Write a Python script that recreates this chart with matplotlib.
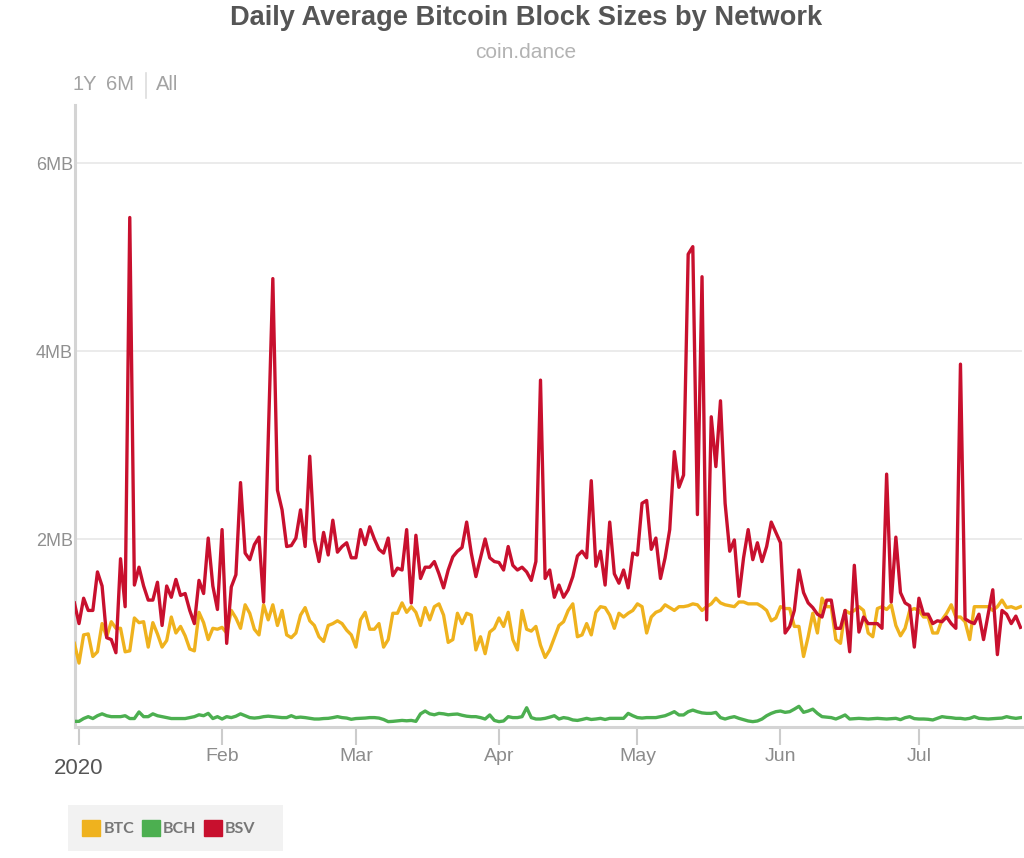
import matplotlib
matplotlib.use("Agg")
import matplotlib.pyplot as plt
import matplotlib.transforms as mtransforms
from matplotlib.patches import Patch, Rectangle
from matplotlib.lines import Line2D
import pandas as pd

# ---------------- data (MB per block, daily average) ----------------
start_date = "2019-12-31"
end_date = "2020-07-23"

bsv = [
    1.32, 1.10, 1.37, 1.24, 1.24, 1.65, 1.50, 0.95, 0.93, 0.79,
    1.79, 1.28, 5.42, 1.51, 1.70, 1.50, 1.35, 1.35, 1.54, 1.08,
    1.50, 1.38, 1.57, 1.40, 1.42, 1.24, 1.10, 1.56, 1.42, 2.01,
    1.50, 1.25, 2.10, 0.89, 1.49, 1.62, 2.60, 1.85, 1.78, 1.94,
    2.02, 1.33, 3.05, 4.77, 2.52, 2.31, 1.92, 1.93, 2.01, 2.31,
    1.92, 2.88, 1.99, 1.76, 2.07, 1.83, 2.20, 1.86, 1.92, 1.96,
    1.80, 1.80, 2.10, 1.94, 2.13, 2.00, 1.89, 1.85, 2.01, 1.61,
    1.69, 1.67, 2.10, 1.32, 2.04, 1.58, 1.70, 1.70, 1.76, 1.63,
    1.48, 1.67, 1.81, 1.87, 1.91, 2.18, 1.85, 1.60, 1.80, 2.00,
    1.80, 1.76, 1.75, 1.67, 1.92, 1.72, 1.67, 1.70, 1.65, 1.56,
    1.76, 3.69, 1.58, 1.67, 1.38, 1.51, 1.38, 1.46, 1.60, 1.82,
    1.87, 1.80, 2.62, 1.71, 1.87, 1.51, 2.18, 1.63, 1.53, 1.67,
    1.48, 1.85, 1.83, 2.38, 2.41, 1.89, 2.01, 1.58, 1.80, 2.10,
    2.93, 2.55, 2.68, 5.03, 5.11, 2.26, 4.79, 1.14, 3.30, 2.77,
    3.47, 2.38, 1.87, 1.99, 1.39, 1.80, 2.10, 1.78, 1.96, 1.76,
    1.92, 2.18, 2.07, 1.96, 1.00, 1.07, 1.24, 1.67, 1.43, 1.32,
    1.27, 1.20, 1.17, 1.35, 1.35, 1.05, 1.05, 1.24, 0.80, 1.72,
    1.01, 1.17, 1.10, 1.10, 1.10, 1.05, 2.69, 1.33, 2.02, 1.43,
    1.32, 1.29, 0.85, 1.37, 1.20, 1.20, 1.10, 1.13, 1.12, 1.17,
    1.10, 1.05, 3.86, 1.15, 1.12, 1.10, 1.20, 0.93, 1.20, 1.46,
    0.77, 1.24, 1.20, 1.10, 1.18, 1.06,
]

btc = [
    0.89, 0.68, 0.98, 0.99, 0.75, 0.80, 1.10, 0.96, 1.12, 1.05,
    1.05, 0.80, 0.81, 1.16, 1.11, 1.12, 0.85, 1.11, 0.99, 0.85,
    0.92, 1.17, 1.00, 1.07, 0.97, 0.83, 0.81, 1.22, 1.11, 0.93,
    1.05, 1.04, 1.06, 1.00, 1.24, 1.16, 1.05, 1.30, 1.21, 1.04,
    0.98, 1.30, 1.14, 1.30, 1.08, 1.24, 0.98, 0.95, 1.00, 1.19,
    1.27, 1.13, 1.08, 0.96, 0.91, 1.08, 1.10, 1.13, 1.10, 1.03,
    0.98, 0.85, 1.14, 1.22, 1.04, 1.04, 1.10, 0.85, 0.93, 1.21,
    1.21, 1.32, 1.22, 1.28, 1.22, 1.08, 1.27, 1.14, 1.28, 1.31,
    1.19, 0.90, 0.93, 1.21, 1.10, 1.21, 1.19, 0.82, 0.96, 0.78,
    1.01, 1.05, 1.16, 1.07, 1.22, 0.93, 0.82, 1.24, 1.04, 1.02,
    1.07, 0.87, 0.74, 0.82, 0.95, 1.08, 1.12, 1.24, 1.31, 0.96,
    0.98, 1.10, 0.98, 1.22, 1.28, 1.27, 1.19, 1.05, 1.21, 1.17,
    1.21, 1.24, 1.31, 1.28, 1.00, 1.17, 1.22, 1.24, 1.30, 1.27,
    1.24, 1.28, 1.28, 1.29, 1.31, 1.30, 1.24, 1.28, 1.31, 1.37,
    1.32, 1.30, 1.29, 1.28, 1.33, 1.33, 1.31, 1.31, 1.31, 1.28,
    1.24, 1.13, 1.16, 1.28, 1.26, 1.26, 1.07, 1.07, 0.75, 0.96,
    1.21, 1.00, 1.37, 1.28, 1.28, 0.93, 0.89, 1.24, 1.21, 1.24,
    1.28, 1.24, 1.00, 0.96, 1.26, 1.28, 1.25, 1.30, 1.08, 0.97,
    1.05, 1.24, 1.26, 1.24, 1.17, 1.17, 1.00, 1.00, 1.14, 1.21,
    1.30, 1.17, 1.17, 1.12, 0.93, 1.28, 1.28, 1.28, 1.28, 1.24,
    1.28, 1.35, 1.27, 1.28, 1.26, 1.28,
]

bch = [
    0.06, 0.06, 0.09, 0.11, 0.09, 0.12, 0.14, 0.12, 0.11, 0.11,
    0.11, 0.12, 0.09, 0.09, 0.16, 0.11, 0.11, 0.14, 0.12, 0.11,
    0.10, 0.09, 0.09, 0.09, 0.09, 0.10, 0.11, 0.13, 0.12, 0.145,
    0.09, 0.11, 0.085, 0.11, 0.10, 0.115, 0.14, 0.12, 0.10, 0.095,
    0.10, 0.11, 0.115, 0.11, 0.105, 0.10, 0.10, 0.12, 0.10, 0.105,
    0.10, 0.092, 0.085, 0.085, 0.09, 0.092, 0.10, 0.11, 0.10, 0.095,
    0.082, 0.09, 0.092, 0.095, 0.10, 0.10, 0.095, 0.08, 0.057, 0.06,
    0.065, 0.07, 0.066, 0.07, 0.06, 0.14, 0.17, 0.14, 0.13, 0.145,
    0.14, 0.13, 0.135, 0.138, 0.125, 0.115, 0.11, 0.11, 0.10, 0.085,
    0.128, 0.07, 0.057, 0.064, 0.11, 0.10, 0.10, 0.11, 0.205, 0.10,
    0.085, 0.085, 0.092, 0.105, 0.12, 0.085, 0.10, 0.092, 0.075, 0.07,
    0.08, 0.092, 0.08, 0.085, 0.092, 0.08, 0.092, 0.092, 0.092, 0.092,
    0.145, 0.12, 0.10, 0.095, 0.10, 0.10, 0.10, 0.11, 0.12, 0.14,
    0.163, 0.128, 0.128, 0.163, 0.18, 0.163, 0.15, 0.145, 0.145, 0.155,
    0.10, 0.085, 0.10, 0.11, 0.092, 0.078, 0.064, 0.057, 0.064, 0.085,
    0.12, 0.145, 0.163, 0.17, 0.156, 0.163, 0.19, 0.22, 0.156, 0.17,
    0.19, 0.145, 0.11, 0.105, 0.10, 0.085, 0.105, 0.128, 0.085, 0.088,
    0.092, 0.089, 0.085, 0.089, 0.092, 0.089, 0.085, 0.089, 0.092, 0.078,
    0.099, 0.11, 0.089, 0.085, 0.085, 0.082, 0.075, 0.092, 0.11, 0.103,
    0.099, 0.092, 0.092, 0.085, 0.092, 0.11, 0.092, 0.089, 0.085, 0.089,
    0.092, 0.095, 0.11, 0.099, 0.092, 0.099,
]

series_names = ["BTC", "BCH", "BSV"]
series_colors = ["#EFB21E", "#4CAF50", "#C8102E"]
month_labels = ["", "Feb", "Mar", "Apr", "May", "Jun", "Jul"]
month_ticks = pd.to_datetime(["2020-01-01", "2020-02-01", "2020-03-01", "2020-04-01",
                              "2020-05-01", "2020-06-01", "2020-07-01"])
y_ticks = [2, 4, 6]
y_labels = ["2MB", "4MB", "6MB"]

dates = pd.date_range(start_date, end_date, freq="D")
assert len(dates) == len(bsv) == len(btc) == len(bch)

# ---------------- figure ----------------
FONT = ["Liberation Sans", "DejaVu Sans"]
plt.rcParams["font.family"] = FONT

W, H = 1024, 858
fig = plt.figure(figsize=(W / 100, H / 100), dpi=100)
fig.patch.set_facecolor("white")

left_px, right_px, top_px, bottom_px = 75, 1022, 105, 727
ax = fig.add_axes([left_px / W, 1 - bottom_px / H,
                   (right_px - left_px) / W, (bottom_px - top_px) / H])

for vals, c, z in zip([btc, bch, bsv], series_colors, [3, 3, 4]):
    ax.plot(dates, vals, color=c, lw=2.4, zorder=z, solid_joinstyle="round")

px_per_day = 4.615
x0 = pd.Timestamp("2020-01-01")
ax.set_xlim(x0 - pd.Timedelta(days=(79 - left_px) / px_per_day),
            x0 + pd.Timedelta(days=(right_px - 79) / px_per_day))
ax.set_ylim(0, (bottom_px - top_px) / 94.0)

ax.set_xticks(month_ticks)
ax.set_xticklabels(month_labels)
ax.tick_params(axis="x", length=13, width=1.5, color="#cccccc", pad=2,
               labelsize=14, labelcolor="#8c8c8c")
trans = mtransforms.blended_transform_factory(ax.transData, ax.transAxes)
ax.text(month_ticks[0], -(768 - bottom_px) / (bottom_px - top_px), "2020",
        transform=trans, ha="center", va="center", fontsize=16, color="#555555")

ax.set_yticks(y_ticks)
ax.set_yticklabels(y_labels)
ax.tick_params(axis="y", length=0, pad=1.5, labelsize=13, labelcolor="#909090")
ax.grid(axis="y", color="#e8e8e8", lw=1.2)
ax.set_axisbelow(True)

for s in ["top", "right"]:
    ax.spines[s].set_visible(False)
for s in ["left", "bottom"]:
    ax.spines[s].set_color("#d4d4d4")
    ax.spines[s].set_linewidth(2.2)

# ---------------- titles / controls ----------------
fig.text(526 / W, 1 - 18 / H, "Daily Average Bitcoin Block Sizes by Network",
         ha="center", va="center", fontsize=19.6, fontweight="bold", color="#555555")
fig.text(526 / W, 1 - 52 / H, "coin.dance", ha="center", va="center",
         fontsize=15, color="#b3b3b3")
fig.text(73 / W, 1 - 84 / H, "1Y", ha="left", va="center", fontsize=14.5, color="#a3a3a3")
fig.text(106 / W, 1 - 84 / H, "6M", ha="left", va="center", fontsize=14.5, color="#a3a3a3")
fig.text(156 / W, 1 - 84 / H, "All", ha="left", va="center", fontsize=14.5, color="#a3a3a3")
fig.add_artist(Line2D([146 / W, 146 / W], [1 - 73 / H, 1 - 98 / H],
                      transform=fig.transFigure, color="#dddddd", lw=1.2))

# ---------------- legend ----------------
fig.add_artist(Rectangle((68 / W, 1 - 851 / H), 215 / W, 46 / H,
                         transform=fig.transFigure, facecolor="#f2f2f2",
                         edgecolor="none", zorder=0))
handles = [Patch(facecolor=c, edgecolor=c, label=n) for n, c in zip(series_names, series_colors)]
leg = fig.legend(handles=handles, loc="center left", bbox_to_anchor=(68 / W, 1 - 828 / H),
                 ncol=3, frameon=False, borderaxespad=0, borderpad=0.88,
                 handlelength=1.15, handleheight=1.15, handletextpad=0.2,
                 columnspacing=0.45, prop={"family": ["Lato", "DejaVu Sans"],
                                          "weight": "bold", "size": 11.5})
for t in leg.get_texts():
    t.set_color("#777777")

fig.savefig("out.png", dpi=100, facecolor="white")
